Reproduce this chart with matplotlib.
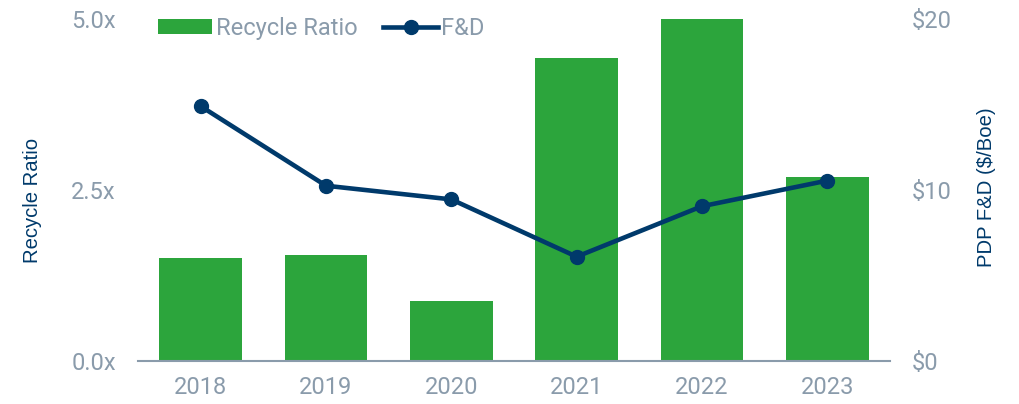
import matplotlib.pyplot as plt
from matplotlib.ticker import FuncFormatter

plt.rcParams['font.family'] = ['Roboto', 'DejaVu Sans']

years = ["2018", "2019", "2020", "2021", "2022", "2023"]
recycle_ratio = [1.51, 1.55, 0.88, 4.43, 5.0, 2.69]
fd_cost = [14.9, 10.25, 9.45, 6.1, 9.05, 10.55]

green = "#2ca53c"
navy = "#003a6b"
gray = "#8a9bab"

fig = plt.figure(figsize=(10.2, 4.04), dpi=100)
ax = fig.add_axes([0.1353, 0.1064, 0.7372, 0.8466])
ax2 = ax.twinx()

x = list(range(len(years)))
bars = ax.bar(x, recycle_ratio, width=0.66, color=green, label="Recycle Ratio", zorder=2)
line, = ax2.plot(x, fd_cost, color=navy, lw=3.3, marker="o", markersize=10, label="F&D", zorder=3)

ax.set_xlim(-0.5, 5.5)
ax.set_ylim(0, 5)
ax2.set_ylim(0, 20)
ax.set_yticks([0, 2.5, 5])
ax2.set_yticks([0, 10, 20])
ax.yaxis.set_major_formatter(FuncFormatter(lambda v, p: f"{v:.1f}x"))
ax2.yaxis.set_major_formatter(FuncFormatter(lambda v, p: f"${v:.0f}"))
ax.set_xticks(x)
ax.set_xticklabels(years)

for a in (ax, ax2):
    for s in ["top", "left", "right", "bottom"]:
        a.spines[s].set_visible(False)
    a.tick_params(length=0, labelsize=17, colors=gray)
ax.spines["bottom"].set_visible(True)
ax.spines["bottom"].set_color(gray)
ax.spines["bottom"].set_linewidth(1.5)
ax.tick_params(axis="y", pad=16)
ax.tick_params(axis="x", pad=11)
ax2.tick_params(axis="y", pad=16)

ax.set_zorder(ax2.get_zorder() - 1)
ax2.patch.set_visible(False)

fig.text(0.032, 0.505, "Recycle Ratio", rotation=90, color=navy, fontsize=14.6,
         family="Liberation Sans", ha="center", va="center")
fig.text(0.967, 0.537, "PDP F&D ($/Boe)", rotation=90, color=navy, fontsize=14.6,
         family="Liberation Sans", ha="center", va="center")

leg = fig.legend([bars, line], ["Recycle Ratio", "F&D"], loc="upper left",
                 bbox_to_anchor=(0.134, 1.01), ncol=2, frameon=False, fontsize=17,
                 handlelength=2.3, handleheight=0.6, handletextpad=0.15,
                 columnspacing=1.1, labelcolor=gray)

fig.savefig("out.png", dpi=100, facecolor="white")
